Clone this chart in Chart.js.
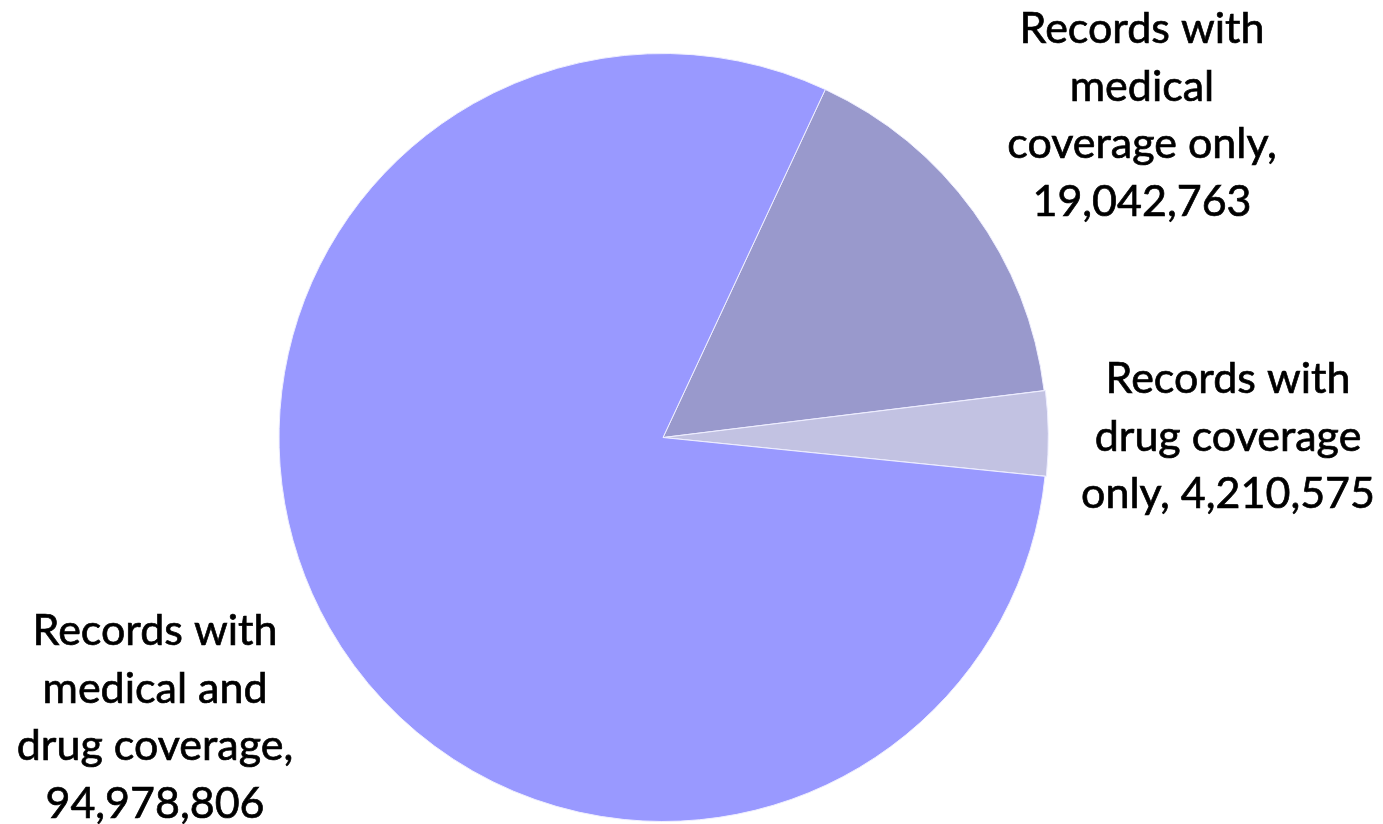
<!DOCTYPE html>
<html>
<head>
<meta charset="utf-8">
<title>Coverage records</title>
<script src="https://cdn.jsdelivr.net/npm/chart.js@4.4.1/dist/chart.umd.min.js"></script>
<style>
    html, body { margin: 0; padding: 0; background: #ffffff; }
    #wrap { width: 1383px; height: 824px; position: relative; }
</style>
</head>
<body>
<div id="wrap"><canvas id="pieChart"></canvas></div>
<script>
// 데이터
const categories = [
    'Records with medical coverage only',
    'Records with drug coverage only',
    'Records with medical and drug coverage'
];
const records = [19042763, 4210575, 94978806];
const labelLines = [
    ['Records with', 'medical', 'coverage only,', '19,042,763'],
    ['Records with', 'drug coverage', 'only, 4,210,575'],
    ['Records with', 'medical and', 'drug coverage,', '94,978,806']
];
const sliceColors = ['#9999CC', '#C2C2E2', '#9999FF'];

// 라벨 위치 (첫 줄 기준선, 가운데 정렬)
const labelAnchors = [
    { x: 1142, y: 43 },
    { x: 1228, y: 393 },
    { x: 155, y: 645 }
];
const lineHeight = 57.5;

const outsideLabels = {
    id: 'outsideLabels',
    afterDraw(chart) {
        const ctx = chart.ctx;
        ctx.save();
        ctx.fillStyle = '#000000';
        ctx.strokeStyle = '#000000';
        ctx.lineWidth = 0.7;
        ctx.font = '43px Lato';
        ctx.textAlign = 'center';
        ctx.textBaseline = 'alphabetic';
        labelLines.forEach((lines, i) => {
            const a = labelAnchors[i];
            lines.forEach((line, j) => {
                ctx.fillText(line, a.x, a.y + j * lineHeight);
                ctx.strokeText(line, a.x, a.y + j * lineHeight);
            });
        });
        ctx.restore();
    }
};

new Chart(document.getElementById('pieChart'), {
    type: 'pie',
    data: {
        labels: categories,
        datasets: [{
            data: records,
            backgroundColor: sliceColors,
            borderColor: '#eeeeff',
            borderWidth: 1,
            offset: [0, 3, 0]
        }]
    },
    options: {
        responsive: true,
        maintainAspectRatio: false,
        animation: false,
        rotation: 25,
        layout: { padding: { left: 277, right: 334, top: 51, bottom: 0 } },
        plugins: {
            legend: { display: false },
            tooltip: { enabled: false }
        }
    },
    plugins: [outsideLabels]
});
</script>
</body>
</html>
